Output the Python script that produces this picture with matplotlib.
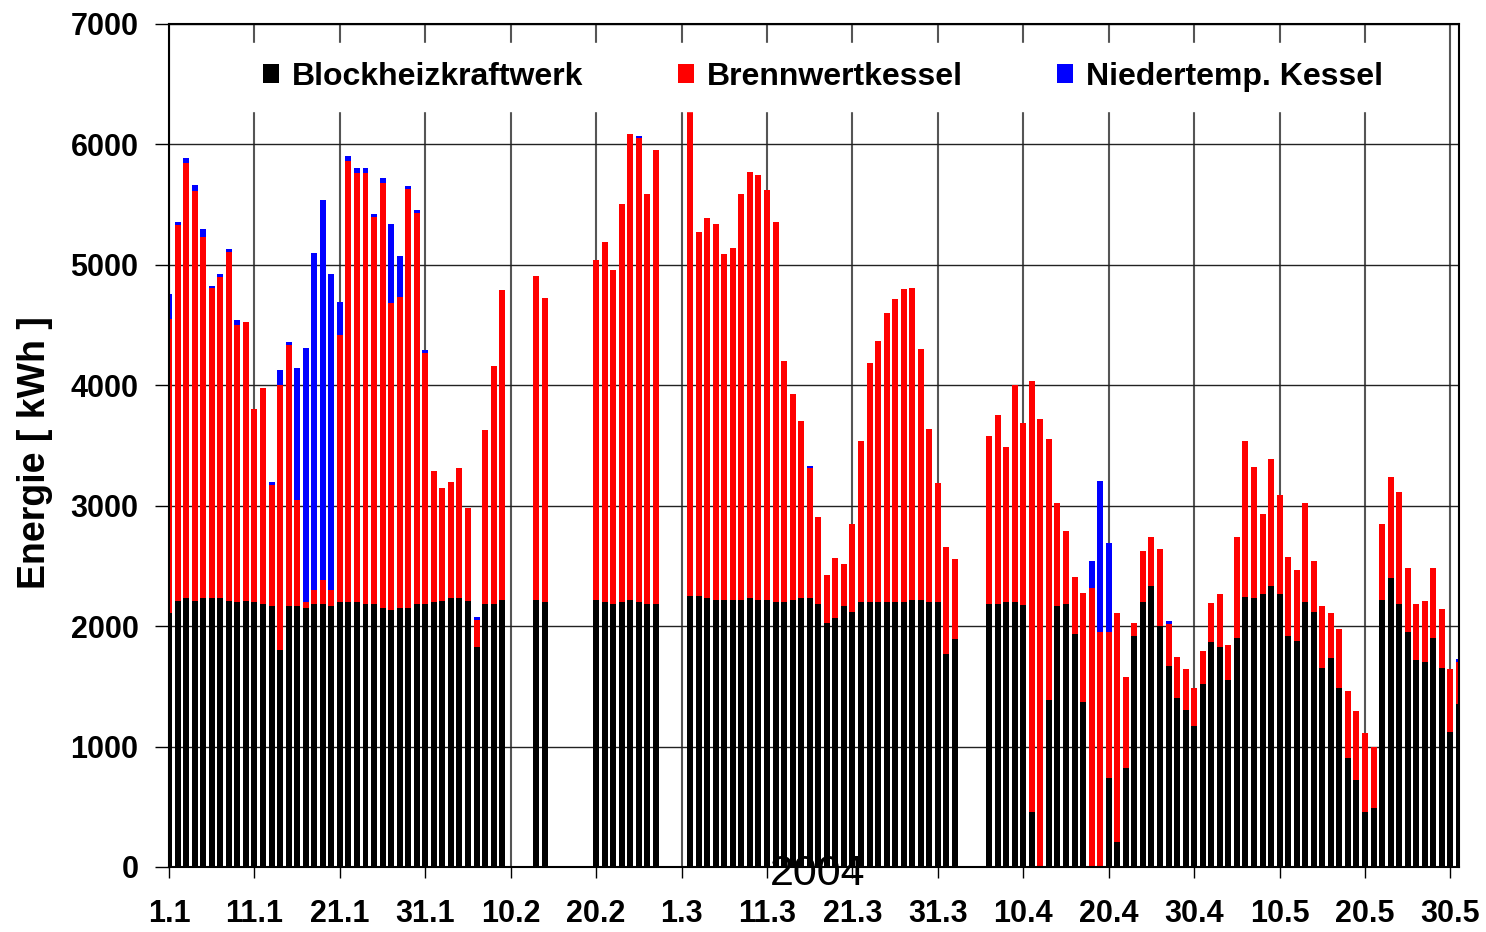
import numpy as np
import matplotlib.pyplot as plt

plt.rcParams['font.family'] = ['Liberation Sans', 'DejaVu Sans']

# Tageswerte in kWh, 1.1. - 31.5.2004, Tage ohne Messung = 0
bhkw_jan = [2110, 2210, 2230, 2210, 2230, 2230, 2230, 2210, 2200, 2210, 2200, 2180, 2165, 1800, 2165, 2165,
            2150, 2180, 2180, 2165, 2200, 2200, 2200, 2180, 2180, 2150, 2135, 2150, 2150, 2180, 2180]
brenn_jan = [2440, 3120, 3615, 3400, 3000, 2575, 2670, 2900, 2300, 2315, 1600, 1800, 1010, 2200, 2170, 880,
             50, 120, 200, 135, 2220, 3660, 3565, 3585, 3220, 3530, 2550, 2585, 3480, 3250, 2090]
nt_jan = [210, 30, 45, 55, 70, 20, 20, 25, 45, 0, 0, 0, 20, 125, 25, 1100,
          2110, 2800, 3155, 2625, 270, 45, 40, 40, 20, 45, 655, 340, 25, 25, 25]

bhkw_feb = [2200, 2210, 2230, 2230, 2210, 1830, 2180, 2180, 2215, 0, 0, 0, 2215, 2200, 0,
            0, 0, 0, 0, 2215, 2200, 2185, 2200, 2215, 2200, 2185, 2185, 0, 0]
brenn_feb = [1085, 940, 970, 1085, 775, 220, 1450, 1980, 2575, 0, 0, 0, 2690, 2525, 0,
             0, 0, 0, 0, 2825, 2990, 2770, 3305, 3870, 3850, 3405, 3765, 0, 0]
nt_feb = [0, 0, 0, 0, 0, 25, 0, 0, 0, 0, 0, 0, 0, 0, 0,
          0, 0, 0, 0, 0, 0, 0, 0, 0, 20, 0, 0, 0, 0]

bhkw_mar = [0, 2250, 2250, 2235, 2215, 2215, 2215, 2215, 2235, 2215, 2215, 2200, 2200, 2215, 2235, 2235,
            2185, 2030, 2070, 2165, 2120, 2200, 2200, 2200, 2200, 2200, 2200, 2220, 2220, 2200, 2200]
brenn_mar = [0, 4050, 3025, 3150, 3125, 2875, 2925, 3370, 3535, 3535, 3405, 3155, 2000, 1715, 1465, 1075,
             720, 395, 495, 355, 730, 1335, 1985, 2170, 2400, 2520, 2600, 2585, 2085, 1435, 990]
nt_mar = [0, 0, 0, 0, 0, 0, 0, 0, 0, 0, 0, 0, 0, 0, 0, 20,
          0, 0, 0, 0, 0, 0, 0, 0, 0, 0, 0, 0, 0, 0, 0]

bhkw_apr = [1770, 1890, 0, 0, 0, 2185, 2185, 2200, 2200, 2175, 457, 0, 1390, 2170, 2185,
            1935, 1370, 0, 0, 740, 208, 820, 1920, 2200, 2335, 2000, 1670, 1405, 1300, 1170]
brenn_apr = [885, 670, 0, 0, 0, 1390, 1570, 1290, 1800, 1515, 3575, 3720, 2165, 850, 605,
             470, 905, 2315, 1955, 1215, 1900, 755, 105, 420, 405, 640, 345, 340, 340, 320]
nt_apr = [0, 0, 0, 0, 0, 0, 0, 0, 0, 0, 0, 0, 0, 0, 0,
          0, 0, 225, 1250, 735, 0, 0, 0, 0, 0, 0, 28, 0, 0, 0]

bhkw_mai = [1520, 1865, 1830, 1550, 1900, 2245, 2230, 2265, 2330, 2265, 1915, 1880, 2200, 2115, 1650, 1735,
            1485, 905, 725, 460, 490, 2215, 2400, 2185, 1950, 1715, 1700, 1900, 1650, 1120, 1350]
brenn_mai = [270, 325, 440, 290, 840, 1290, 1090, 670, 1055, 820, 655, 590, 820, 425, 520, 370,
             490, 555, 570, 655, 505, 635, 835, 930, 535, 470, 505, 585, 490, 520, 355]
nt_mai = [0, 0, 0, 0, 0, 0, 0, 0, 0, 0, 0, 0, 0, 0, 0, 0,
          0, 0, 0, 0, 0, 0, 0, 0, 0, 0, 0, 0, 0, 0, 20]

tick_labels = ["1.1", "11.1", "21.1", "31.1", "10.2", "20.2", "1.3", "11.3", "21.3", "31.3",
               "10.4", "20.4", "30.4", "10.5", "20.5", "30.5"]

bhkw = np.array(bhkw_jan + bhkw_feb + bhkw_mar + bhkw_apr + bhkw_mai)
brenn = np.array(brenn_jan + brenn_feb + brenn_mar + brenn_apr + brenn_mai)
nt = np.array(nt_jan + nt_feb + nt_mar + nt_apr + nt_mai)
tage = np.arange(len(bhkw))

fig = plt.figure(figsize=(14.86, 9.32), dpi=100)
ax = fig.add_axes([169/1486, 1-867/932, (1459-169)/1486, (867-24)/932])

ax.bar(tage, bhkw, width=0.7, color='black', label='Blockheizkraftwerk', zorder=2)
ax.bar(tage, brenn, bottom=bhkw, width=0.7, color='#ff0000', label='Brennwertkessel', zorder=2)
ax.bar(tage, nt, bottom=bhkw+brenn, width=0.7, color='#0000ff', label='Niedertemp. Kessel', zorder=2)

ax.set_xlim(0, len(bhkw)-1)
ax.set_ylim(0, 7000)
ax.set_yticks(np.arange(0, 7001, 1000))
ax.set_xticks(np.arange(0, 151, 10))
ax.set_xticklabels(tick_labels)

ax.yaxis.grid(True, color='#222222', lw=1, zorder=0)
ax.xaxis.grid(True, color='#555555', lw=1.5, zorder=0)
ax.set_axisbelow(True)

for lab in ax.get_xticklabels() + ax.get_yticklabels():
    lab.set_fontsize(22)
    lab.set_fontweight('bold')
ax.tick_params(axis='x', length=8, pad=15, width=1)
ax.tick_params(axis='y', length=10, pad=12, width=1)
for sp in ax.spines.values():
    sp.set_linewidth(1.5)

fig.text(35/1486, 1-453/932, "Energie [ kWh ]", rotation=90, ha='center', va='center',
         fontsize=27, fontweight='bold')
fig.text(818/1486, 1-874/932, "2004", ha='center', va='center', fontsize=31, zorder=10)

leg = ax.legend(loc='center', bbox_to_anchor=(0.507, 0.937), ncol=3,
                prop={'weight': 'bold', 'size': 23}, frameon=True, fancybox=False,
                framealpha=1, edgecolor='white', handlelength=0.5, handleheight=0.55,
                handletextpad=0.4, columnspacing=2.95, borderpad=0.6)

plt.savefig("out.png", dpi=100)
